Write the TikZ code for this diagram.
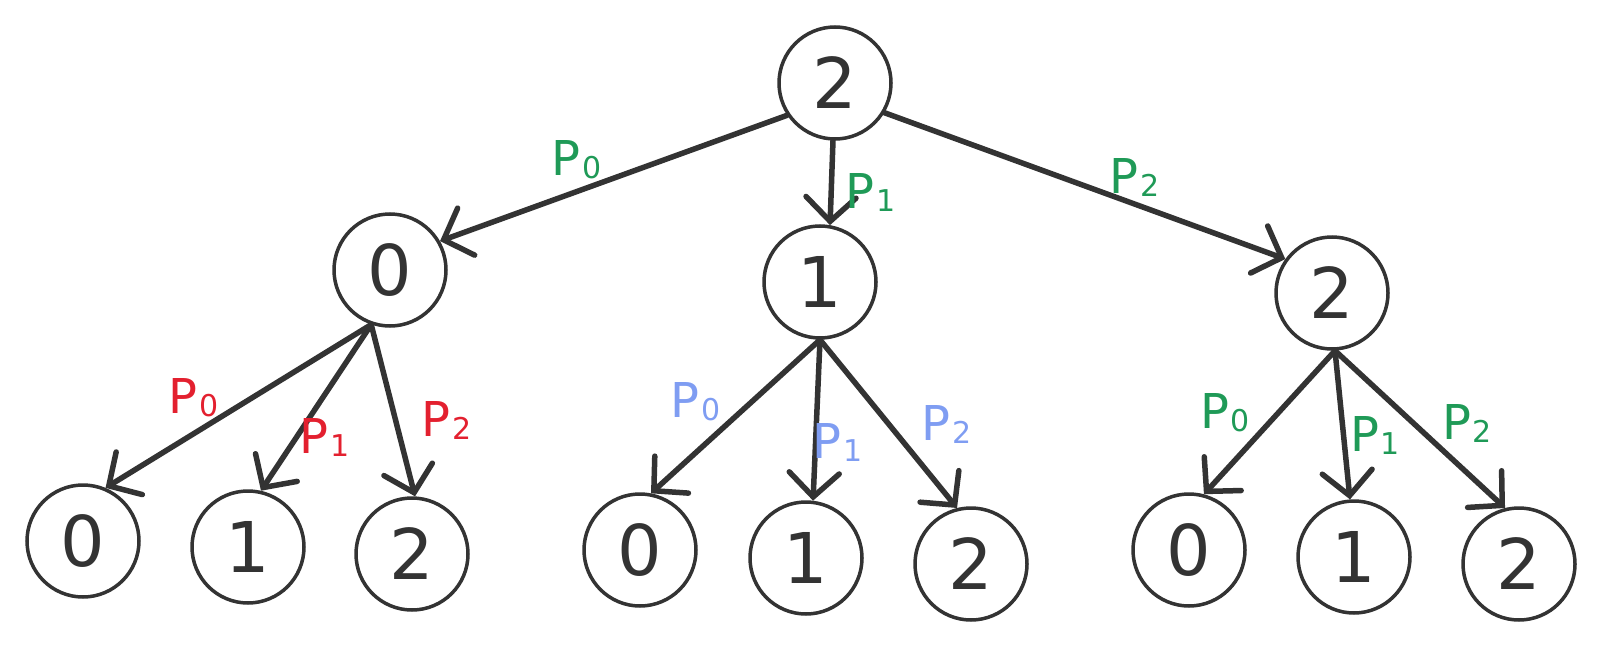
\documentclass[tikz,border=0pt]{standalone}
\usepackage{fontspec}
\setmainfont{DejaVu Sans}
\usetikzlibrary{arrows.meta}
\definecolor{ink}{HTML}{333333}
\definecolor{pgreen}{HTML}{1F9A57}
\definecolor{pred}{HTML}{E3202F}
\definecolor{pblue}{HTML}{7F9DF2}

% probability label: P with a small index
\newcommand{\plab}[1]{P\kern2pt\raisebox{-3pt}{\fontsize{30}{30}\selectfont #1}}

\begin{document}
\begin{tikzpicture}[x=1pt,y=-1pt,
  state/.style={circle, draw=ink, line width=3.5pt, minimum size=112pt,
                inner sep=0pt, text=ink, font=\fontsize{70}{70}\selectfont},
  edge/.style={draw=ink, line width=5.5pt, line cap=round, line join=round,
               -{Straight Barb[length=24pt,width=50pt,line cap=round]}},
  lab/.style={font=\fontsize{48}{48}\selectfont, inner sep=0pt}]

\useasboundingbox (0,0) rectangle (1600,650);

% root
\node[state] (r) at (835,83) {2};

% first level
\node[state] (a) at (390,270) {0};
\node[state] (b) at (820,282) {1};
\node[state] (c) at (1332,293) {2};

% second level
\node[state] (a0) at (83,541) {0};
\node[state] (a1) at (248,547) {1};
\node[state] (a2) at (412,554) {2};

\node[state] (b0) at (640,550) {0};
\node[state] (b1) at (806,558) {1};
\node[state] (b2) at (971,564) {2};

\node[state] (c0) at (1189,550) {0};
\node[state] (c1) at (1354,557) {1};
\node[state] (c2) at (1519,564) {2};

% transitions from the root
\draw[edge] (r.214) -- (a.30);
\draw[edge] (r.-92) -- (b.80);
\draw[edge] (r.-31) -- (c.144);

% transitions from the first level
\draw[edge] (a.-109) -- (a0.67);
\draw[edge] (a.-109) -- (a1.77);
\draw[edge] (a.-109) -- (a2.87);

\draw[edge] (b.-90) -- (b0.79);
\draw[edge] (b.-90) -- (b1.83);
\draw[edge] (b.-90) -- (b2.104);

\draw[edge] (c.-87) -- (c0.75);
\draw[edge] (c.-87) -- (c1.94);
\draw[edge] (c.-87) -- (c2.104);

% edge labels
\node[lab, text=pgreen] (lr0) at (577,160) {\plab{0}};
\node[lab, text=pgreen] (lr1) at (871,193) {\plab{1}};
\node[lab, text=pgreen] (lr2) at (1135,178) {\plab{2}};

\node[lab, text=pred] (la0) at (194,398) {\plab{0}};
\node[lab, text=pred] (la1) at (325,437) {\plab{1}};
\node[lab, text=pred] (la2) at (447,420) {\plab{2}};

\node[lab, text=pblue] (lb0) at (696,402) {\plab{0}};
\node[lab, text=pblue] (lb1) at (838,442) {\plab{1}};
\node[lab, text=pblue] (lb2) at (947,424) {\plab{2}};

\node[lab, text=pgreen] (lc0) at (1225,413) {\plab{0}};
\node[lab, text=pgreen] (lc1) at (1375,435) {\plab{1}};
\node[lab, text=pgreen] (lc2) at (1467,423) {\plab{2}};
\end{tikzpicture}
\end{document}
